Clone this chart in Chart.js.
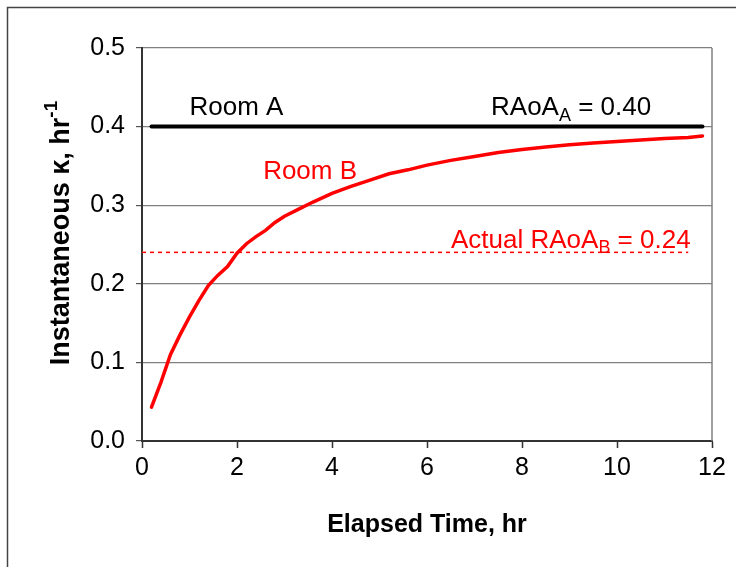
<!DOCTYPE html>
<html lang="en">
<head>
    <meta charset="UTF-8">
    <title>Instantaneous kappa</title>
    <style>
        html, body { margin: 0; padding: 0; background: #fff; }
        #wrap { width: 736px; height: 567px; }
    </style>
    <script src="https://cdn.jsdelivr.net/npm/chart.js"></script>
</head>
<body>
    <div id="wrap"><canvas id="kappaChart" width="736" height="567"></canvas></div>

    <script>
        // Room B instantaneous kappa over time
        const timeHr = [0.2, 0.4, 0.6, 0.8, 1.0, 1.2, 1.4, 1.6, 1.8, 2.0, 2.2, 2.4, 2.6, 2.8, 3.0,
                        3.3, 3.6, 4.0, 4.4, 4.8, 5.2, 5.6, 6.0, 6.5, 7.0, 7.5, 8.0, 8.5, 9.0, 9.5,
                        10.0, 10.5, 11.0, 11.5, 11.8];
        const kappaB = [0.043, 0.075, 0.110, 0.135, 0.158, 0.179, 0.198, 0.211, 0.222, 0.239, 0.251, 0.260, 0.268, 0.278, 0.286,
                        0.295, 0.304, 0.315, 0.324, 0.332, 0.340, 0.345, 0.351, 0.357, 0.362, 0.367, 0.371, 0.374, 0.377, 0.379,
                        0.381, 0.383, 0.385, 0.386, 0.388];
        // Room A is flat
        const roomATime = [0.2, 11.8];
        const roomAKappa = [0.40, 0.40];
        // actual RAoA for room B (dashed)
        const actualBTime = [0, 11.5];
        const actualBKappa = [0.24, 0.24];

        const xTicks = [0, 2, 4, 6, 8, 10, 12];
        const yTicks = [0.0, 0.1, 0.2, 0.3, 0.4, 0.5];

        const toPts = (xs, ys) => xs.map((x, i) => ({ x: x, y: ys[i] }));

        const FONT = "'Liberation Sans', Arial, sans-serif";

        // draw text made of parts, some of them subscript / superscript
        function drawParts(ctx, parts, x, y, size, align) {
            const fontOf = p => (p.bold ? 'bold ' : '') + (p.sub || p.sup ? Math.round(size * 0.7) : size) + 'px ' + FONT;
            const widths = parts.map(p => {
                ctx.font = fontOf(p);
                return ctx.measureText(p.t).width;
            });
            const total = widths.reduce((a, b) => a + b, 0);
            let cx = align === 'right' ? x - total : align === 'center' ? x - total / 2 : x;
            parts.forEach((p, i) => {
                ctx.font = fontOf(p);
                let dy = 0;
                if (p.sub) dy = size * 0.22;
                if (p.sup) dy = -size * 0.38;
                ctx.fillText(p.t, cx, y + dy);
                cx += widths[i];
            });
        }

        const decorPlugin = {
            id: 'decor',
            beforeDraw(chart) {
                const ctx = chart.ctx;
                ctx.save();
                ctx.strokeStyle = '#444';
                ctx.lineWidth = 1.5;
                ctx.strokeRect(7.5, 7.5, 1000, 1000);
                ctx.restore();
            },
            afterDraw(chart) {
                const ctx = chart.ctx;
                const xs = chart.scales.x, ys = chart.scales.y;
                const area = chart.chartArea;
                ctx.save();
                // right frame of plot
                ctx.strokeStyle = '#808080';
                ctx.lineWidth = 1.5;
                ctx.beginPath();
                ctx.moveTo(area.right, area.top);
                ctx.lineTo(area.right, area.bottom);
                ctx.stroke();

                ctx.textBaseline = 'alphabetic';
                ctx.fillStyle = '#000';
                drawParts(ctx, [{ t: 'Room A' }], xs.getPixelForValue(1.0), ys.getPixelForValue(0.415), 26, 'left');
                drawParts(ctx, [{ t: 'RAoA' }, { t: 'A', sub: true }, { t: ' = 0.40' }],
                    xs.getPixelForValue(10.72), ys.getPixelForValue(0.415), 26, 'right');
                ctx.fillStyle = '#ff0000';
                drawParts(ctx, [{ t: 'Room B' }], xs.getPixelForValue(2.55), ys.getPixelForValue(0.333), 26, 'left');
                drawParts(ctx, [{ t: 'Actual RAoA' }, { t: 'B', sub: true }, { t: ' = 0.24' }],
                    xs.getPixelForValue(11.55), ys.getPixelForValue(0.246), 26, 'right');

                // axis titles
                ctx.fillStyle = '#000';
                ctx.textBaseline = 'middle';
                drawParts(ctx, [{ t: 'Elapsed Time, hr', bold: true }], (area.left + area.right) / 2, 525, 25, 'center');
                ctx.translate(62, 233);
                ctx.rotate(-Math.PI / 2);
                drawParts(ctx, [{ t: 'Instantaneous \u03ba, hr', bold: true }, { t: '-1', sup: true, bold: true }], 0, 0, 27, 'center');
                ctx.restore();
            }
        };

        new Chart(document.getElementById('kappaChart'), {
            type: 'scatter',
            data: {
                datasets: [
                    {
                        label: 'Room A',
                        data: toPts(roomATime, roomAKappa),
                        showLine: true,
                        borderColor: '#000',
                        borderWidth: 4,
                        pointRadius: 0,
                        borderCapStyle: 'round'
                    },
                    {
                        label: 'Room B',
                        data: toPts(timeHr, kappaB),
                        showLine: true,
                        borderColor: '#ff0000',
                        borderWidth: 3.5,
                        pointRadius: 0,
                        tension: 0,
                        borderCapStyle: 'round'
                    },
                    {
                        label: 'Actual RAoA B',
                        data: toPts(actualBTime, actualBKappa),
                        showLine: true,
                        borderColor: '#ff0000',
                        borderWidth: 1.5,
                        borderDash: [4, 4],
                        pointRadius: 0
                    }
                ]
            },
            options: {
                responsive: false,
                animation: false,
                layout: { padding: { left: 0, top: 48, right: 24, bottom: 0 } },
                plugins: {
                    legend: { display: false },
                    tooltip: { enabled: false }
                },
                scales: {
                    x: {
                        type: 'linear',
                        min: 0,
                        max: 12,
                        afterFit: s => { s.height = 126; },
                        afterBuildTicks: s => { s.ticks = xTicks.map(v => ({ value: v })); },
                        ticks: {
                            color: '#000',
                            font: { family: FONT, size: 25 },
                            padding: 5,
                            maxRotation: 0
                        },
                        grid: {
                            drawOnChartArea: false,
                            drawTicks: true,
                            tickLength: 7,
                            tickColor: '#333',
                            tickWidth: 1.5
                        },
                        border: { color: '#333', width: 2 }
                    },
                    y: {
                        min: 0,
                        max: 0.5,
                        afterFit: s => { s.width = 142; },
                        afterBuildTicks: s => { s.ticks = yTicks.map(v => ({ value: v })); },
                        ticks: {
                            color: '#000',
                            font: { family: FONT, size: 25 },
                            padding: 11,
                            callback: v => Number(v).toFixed(1)
                        },
                        grid: {
                            color: '#808080',
                            lineWidth: 1.2,
                            drawTicks: true,
                            tickLength: 6,
                            tickColor: '#555'
                        },
                        border: { color: '#333', width: 2 }
                    }
                }
            },
            plugins: [decorPlugin]
        });
    </script>
</body>
</html>
